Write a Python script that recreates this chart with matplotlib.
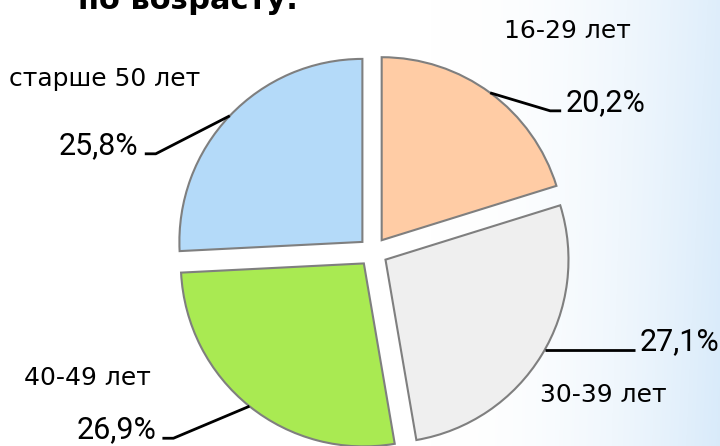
import numpy as np
import matplotlib
matplotlib.use('Agg')
import matplotlib.pyplot as plt

# Данные: распределение по возрасту
age_groups = ['16-29 лет', '30-39 лет', '40-49 лет', 'старше 50 лет']
shares = [20.2, 27.1, 26.9, 25.8]
pct_labels = ['20,2%', '27,1%', '26,9%', '25,8%']
colors = ['#FFCCA5', '#EFEFEF', '#A9EA52', '#B4DAF9']

W, H = 720, 446
R_PX = 183.0          # радиус круга в пикселях
CX, CY = 373, 252     # центр круга (пиксели от левого верхнего угла)


def px(x, y):
    # пиксели картинки -> координаты данных
    return (x - CX) / R_PX, (CY - y) / R_PX


fig = plt.figure(figsize=(W / 100, H / 100), dpi=100)

# фон: белый с голубым градиентом справа
bg = fig.add_axes([0, 0, 1, 1], zorder=-1)
u = np.linspace(0, 1, 400)
v = np.linspace(0, 1, 200)
U, V = np.meshgrid(u, v)
t = np.clip((U - 0.6) / 0.4, 0, 1) ** 2.0 * (0.85 + 0.15 * V)
white = np.array([1.0, 1.0, 1.0])
blue = np.array([0.85, 0.92, 0.98])
img = white * (1 - t[..., None]) + blue * t[..., None]
bg.imshow(img, aspect='auto', extent=[0, 1, 0, 1], origin='upper')
bg.axis('off')

ax = fig.add_axes([0, 0, 1, 1])
ax.set_facecolor('none')
wedges, _ = ax.pie(shares, startangle=90, counterclock=False,
                   explode=[0.08] * 4, colors=colors, radius=1,
                   wedgeprops=dict(edgecolor='#7F7F7F', linewidth=1.5))
x0, y1 = px(0, 0)
x1, y0 = px(W, H)
ax.set_xlim(x0, x1)
ax.set_ylim(y0, y1)
ax.set_aspect('equal')
ax.axis('off')

# выноски: сдвиг угла, излом (dx, dy), горизонтальный хвост, зазор
leaders = [(0, 60, -18, 11, 4), (2, 0, 0, 90, 5), (0, -76, -32, -11, 6), (0, -74, -38, -11, 7)]
pct_font = ['Roboto', 'DejaVu Sans']
for w, lab, (da, dx, dy, hx, gap) in zip(wedges, pct_labels, leaders):
    ang = np.deg2rad((w.theta1 + w.theta2) / 2 + da)
    cx, cy = w.center
    ax_, ay_ = cx + w.r * np.cos(ang), cy + w.r * np.sin(ang)
    ex, ey = ax_ + dx / R_PX, ay_ + dy / R_PX
    hx_end = ex + hx / R_PX
    ax.plot([ax_, ex, hx_end], [ay_, ey, ey], color='black', lw=2,
            solid_capstyle='butt')
    side = 1 if hx > 0 else -1
    ax.text(hx_end + side * gap / R_PX, ey, lab, fontsize=22,
            family=pct_font, ha='left' if side > 0 else 'right',
            va='baseline')

# подписи категорий
cat_pos = {'16-29 лет': (567, 38), '30-39 лет': (603, 402),
           '40-49 лет': (87, 385), 'старше 50 лет': (105, 86)}
for name in age_groups:
    x, y = px(*cat_pos[name])
    ax.text(x, y, name, fontsize=18, family='DejaVu Sans',
            ha='center', va='baseline')

# заголовок (обрезан сверху, как на слайде)
tx, ty = px(188, 9)
ax.text(tx, ty, 'по возрасту:', fontsize=22, fontweight='bold',
        ha='center', va='baseline', clip_on=False)

fig.savefig('out.png', dpi=100)
